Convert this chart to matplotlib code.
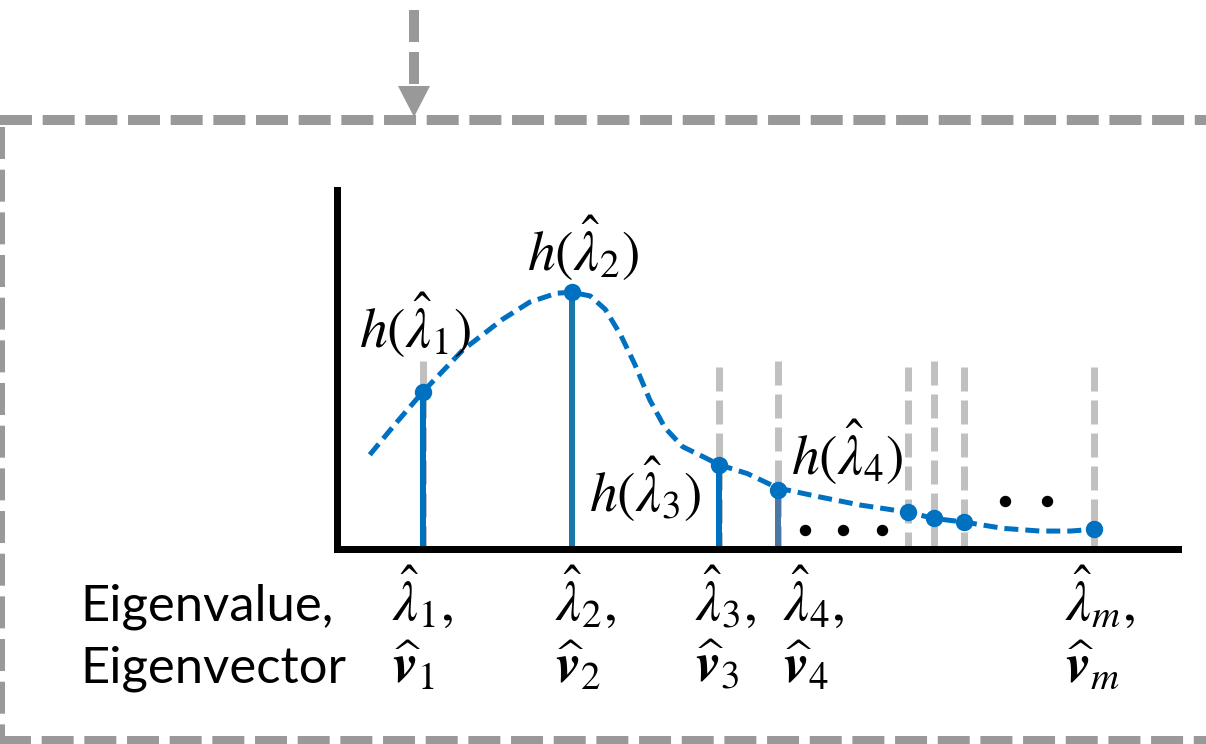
import matplotlib
matplotlib.use("Agg")
import matplotlib.pyplot as plt
from matplotlib.mathtext import MathTextParser

# ---- data -----------------------------------------------------------
# eigenvalue positions along the axis and the filter response h(lambda)
eig_x = [1.02, 2.79, 4.54, 5.24, 6.79, 7.10, 7.46, 9.00]
h_val = [1.75, 2.86, 0.94, 0.66, 0.41, 0.34, 0.30, 0.22]

# response curve h(.) sampled along the axis
curve_x = [0.39, 0.69, 1.02, 1.50, 1.97, 2.29, 2.61, 2.79, 3.01, 3.19,
           3.37, 3.54, 3.72, 3.90, 4.11, 4.35, 4.54, 4.88, 5.24, 5.74,
           6.22, 6.79, 7.10, 7.46, 7.92, 8.36, 8.72, 9.00]
curve_y = [1.05, 1.39, 1.75, 2.22, 2.56, 2.75, 2.85, 2.86, 2.82, 2.67,
           2.39, 2.06, 1.66, 1.35, 1.14, 1.03, 0.94, 0.84, 0.68, 0.58,
           0.49, 0.41, 0.34, 0.30, 0.23, 0.20, 0.20, 0.22]

# heights of the grey guide lines (None = no guide)
guide_top = [2.09, None, 2.03, 2.09, 2.03, 2.09, 2.03, 2.03]

# eigenvalues that get a solid stem
stem_idx = [0, 1, 2, 3]

# response labels h(lambda_i)
h_labels = [r"$h(\hat{\lambda}_1)$", r"$h(\hat{\lambda}_2)$",
            r"$h(\hat{\lambda}_3)$", r"$h(\hat{\lambda}_4)$"]

# ellipsis dots between eigenvalues
dots_x = [5.56, 6.02, 6.48, 7.94, 8.44]
dots_y = [0.21, 0.21, 0.21, 0.54, 0.54]

# bottom captions
row_titles = ["Eigenvalue,", "Eigenvector"]
lam_subs = ["1", "2", "3", "4", "m"]

# ---- style ----------------------------------------------------------
BLUE = "#0070c0"
FRAME_GREY = "#999999"
GUIDE_GREY = "#c0c0c0"
PX = 0.72  # points per pixel at 100 dpi

plt.rcParams["mathtext.fontset"] = "stix"
plt.rcParams["lines.scale_dashes"] = False
plt.rcParams["font.family"] = ["Lato", "DejaVu Sans"]


def bold_v(sub):
    for cmd in (r"\mathbfit{v}", r"\boldsymbol{v}", r"\mathbf{v}"):
        s = r"$\widehat{%s}_{%s}$" % (cmd, sub)
        try:
            MathTextParser("agg").parse(s, 72)
            return s
        except Exception:
            continue
    return r"$\hat{v}_{%s}$" % sub


fig = plt.figure(figsize=(12.06, 7.44), dpi=100)
fig.patch.set_facecolor("white")

# pixel-space layer for the surrounding frame, arrow and captions
deco = fig.add_axes([0, 0, 1, 1])
deco.set_xlim(0, 1206)
deco.set_ylim(744, 0)
deco.axis("off")

frame_kw = dict(color=FRAME_GREY, lw=10 * PX, solid_capstyle="butt",
                dash_capstyle="butt", dashes=(32 * PX, 10.67 * PX))
deco.plot([0, 1206], [120, 120], **frame_kw)
deco.plot([0, 0], [127, 760], **frame_kw)
deco.plot([-17, 1206], [741, 741], **frame_kw)

# incoming arrow
deco.plot([414, 414], [10, 86], color=FRAME_GREY, lw=10 * PX,
          dash_capstyle="butt", dashes=(32 * PX, 10 * PX))
deco.fill([398, 430, 414], [86, 86, 117], color=FRAME_GREY, lw=0)

# ---- chart ------------------------------------------------------------
ax = fig.add_axes([337 / 1206, (744 - 549) / 744,
                   (1178 - 337) / 1206, (549 - 190) / 744])
ax.set_xlim(0, 10)
ax.set_ylim(0, 4.0)
ax.set_facecolor("none")
for side in ("top", "right"):
    ax.spines[side].set_visible(False)
for side in ("left", "bottom"):
    ax.spines[side].set_linewidth(7 * PX)
    ax.spines[side].set_color("black")
    ax.spines[side].set_capstyle("projecting")
    ax.spines[side].set_zorder(6)
ax.set_xticks([])
ax.set_yticks([])

# grey guide lines at each eigenvalue
for x, top in zip(eig_x, guide_top):
    if top is None:
        continue
    ax.plot([x, x], [top, 0], color=GUIDE_GREY, lw=7 * PX,
            dash_capstyle="butt", dashes=(24 * PX, 9 * PX), zorder=1)

# response curve
ax.plot(curve_x, curve_y, color=BLUE, lw=5 * PX, dash_capstyle="butt",
        dashes=(14 * PX, 7 * PX), zorder=2)

# stems
stem_colors = [BLUE, "#1a78a6", BLUE, "#4a78a3"]
for i, c in zip(stem_idx, stem_colors):
    ax.plot([eig_x[i], eig_x[i]], [0, h_val[i]], color=c, lw=6 * PX,
            solid_capstyle="butt", zorder=3)

# sampled responses
ax.plot(eig_x, h_val, ls="none", marker="o", ms=16 * PX, color=BLUE,
        zorder=4, clip_on=False)

# ellipsis dots
ax.plot(dots_x, dots_y, ls="none", marker="o", ms=10 * PX, color="black",
        zorder=4)

# response labels
h_label_pos = [(0.93, 2.49), (2.93, 3.35), (3.66, 0.66), (6.06, 1.08)]
for txt, (lx, ly) in zip(h_labels, h_label_pos):
    ax.text(lx, ly, txt, fontsize=40, ha="center", va="center", zorder=5)

# bottom captions
deco.text(80, 620, row_titles[0], fontsize=36.5, ha="left", va="baseline")
deco.text(80, 682, row_titles[1], fontsize=36.5, ha="left", va="baseline")
cap_left = [392, 555, 695, 783, 1065]
for sub, left in zip(lam_subs, cap_left):
    deco.text(left, 620, r"$\hat{\lambda}_{%s},$" % sub, fontsize=40,
              ha="left", va="baseline")
    deco.text(left, 682, bold_v(sub), fontsize=40, ha="left", va="baseline")

fig.savefig("out.png", dpi=100, facecolor="white")
